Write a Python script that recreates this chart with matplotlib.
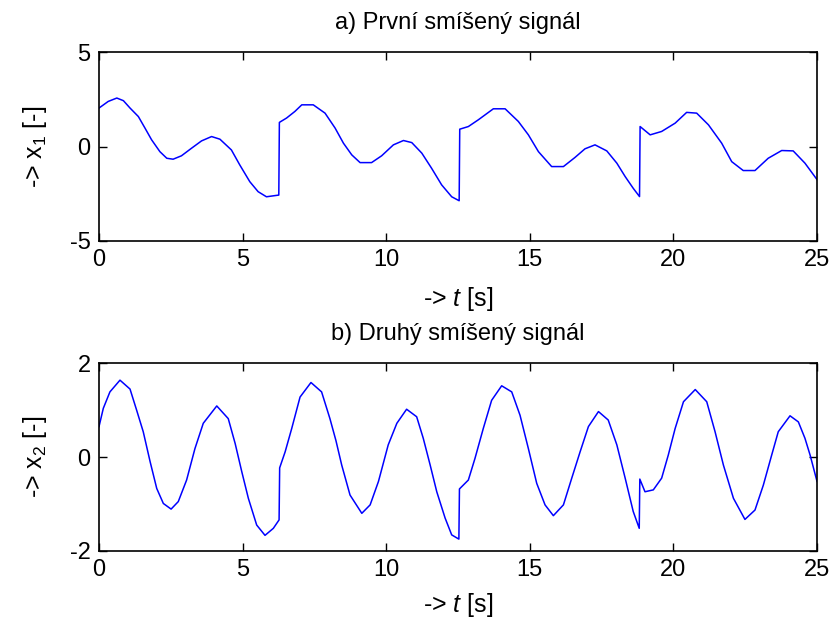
import matplotlib
matplotlib.use("Agg")
import matplotlib.pyplot as plt

plt.rcParams['font.family'] = ['Liberation Sans', 'DejaVu Sans']
plt.rcParams['mathtext.fontset'] = 'custom'
plt.rcParams['mathtext.rm'] = 'Liberation Sans'
plt.rcParams['mathtext.it'] = 'Liberation Sans:italic'
plt.rcParams['axes.unicode_minus'] = False

# First mixed signal x1(t)
t1 = [0.0, 0.32, 0.62, 0.85, 1.08, 1.37, 1.60, 1.83, 2.12, 2.36, 2.58, 2.87,
      3.22, 3.57, 3.92, 4.21, 4.61, 4.90, 5.25, 5.54, 5.83, 6.26, 6.28,
      6.53, 6.82, 7.06, 7.46, 7.87, 8.22, 8.51, 8.80, 9.09, 9.49, 9.84,
      10.25, 10.60, 10.89, 11.24, 11.58, 11.93, 12.28, 12.54, 12.56, 12.86,
      13.21, 13.73, 14.14, 14.60, 14.95, 15.30, 15.76, 16.17, 16.57, 16.92,
      17.27, 17.68, 18.03, 18.32, 18.60, 18.82, 18.84, 19.19, 19.59, 20.06,
      20.46, 20.81, 21.22, 21.68, 22.03, 22.43, 22.84, 23.30, 23.77, 24.17,
      24.58, 25.0]
x1 = [2.04, 2.39, 2.57, 2.43, 2.04, 1.59, 0.98, 0.36, -0.27, -0.62, -0.67,
      -0.49, -0.09, 0.30, 0.53, 0.39, -0.18, -0.97, -1.86, -2.39, -2.66,
      -2.57, 1.28, 1.51, 1.86, 2.21, 2.21, 1.77, 0.98, 0.18, -0.44, -0.85,
      -0.85, -0.49, 0.09, 0.32, 0.21, -0.35, -1.15, -2.03, -2.66, -2.87,
      0.92, 1.06, 1.42, 2.00, 2.00, 1.33, 0.62, -0.27, -1.06, -1.06, -0.58,
      -0.12, 0.09, -0.23, -0.88, -1.59, -2.21, -2.65, 1.06, 0.62, 0.80,
      1.24, 1.81, 1.77, 1.15, 0.18, -0.80, -1.27, -1.27, -0.62, -0.21,
      -0.23, -0.88, -1.75]

# Second mixed signal x2(t)
t2 = [0.0, 0.15, 0.38, 0.73, 1.08, 1.31, 1.54, 1.78, 2.01, 2.24, 2.51, 2.76,
      3.05, 3.34, 3.63, 4.10, 4.50, 4.74, 4.97, 5.20, 5.49, 5.78, 6.07,
      6.27, 6.29, 6.48, 6.71, 7.00, 7.38, 7.75, 8.04, 8.25, 8.45, 8.74,
      9.15, 9.44, 9.73, 10.07, 10.37, 10.71, 11.06, 11.29, 11.53, 11.76,
      12.05, 12.28, 12.53, 12.55, 12.86, 13.09, 13.38, 13.67, 14.02, 14.37,
      14.66, 14.95, 15.24, 15.53, 15.82, 16.17, 16.46, 16.75, 17.04, 17.39,
      17.73, 18.03, 18.32, 18.60, 18.81, 18.83, 19.01, 19.30, 19.59, 19.82,
      20.06, 20.35, 20.76, 21.16, 21.45, 21.74, 22.09, 22.49, 22.84, 23.13,
      23.42, 23.65, 24.06, 24.35, 24.58, 24.76, 25.0]
x2 = [0.65, 1.04, 1.39, 1.64, 1.45, 1.00, 0.54, -0.10, -0.67, -0.99, -1.11,
      -0.95, -0.49, 0.18, 0.72, 1.09, 0.82, 0.29, -0.31, -0.88, -1.45,
      -1.67, -1.52, -1.34, -0.23, 0.11, 0.61, 1.28, 1.59, 1.39, 0.82, 0.35,
      -0.17, -0.81, -1.20, -1.02, -0.52, 0.26, 0.72, 1.02, 0.86, 0.40,
      -0.17, -0.74, -1.30, -1.66, -1.75, -0.68, -0.49, -0.03, 0.61, 1.21,
      1.52, 1.39, 0.89, 0.18, -0.56, -1.02, -1.25, -1.02, -0.45, 0.11, 0.65,
      0.97, 0.79, 0.26, -0.45, -1.16, -1.52, -0.47, -0.74, -0.70, -0.45,
      0.04, 0.61, 1.18, 1.44, 1.18, 0.54, -0.17, -0.88, -1.33, -1.13, -0.60,
      0.04, 0.54, 0.88, 0.75, 0.40, 0.04, -0.52]

x_ticks = [0, 5, 10, 15, 20, 25]
y1_ticks = [-5, 0, 5]
y2_ticks = [-2, 0, 2]

fig = plt.figure(figsize=(8.32, 6.21), dpi=100)
ax1 = fig.add_axes([0.119, 0.612, 0.863, 0.304])
ax2 = fig.add_axes([0.119, 0.113, 0.863, 0.302])

panels = [
    (ax1, t1, x1, y1_ticks, (-5, 5), 'a) První smíšený signál', r'-> x$_1$ [-]', 10),
    (ax2, t2, x2, y2_ticks, (-2, 2), 'b) Druhý smíšený signál', r'-> x$_2$ [-]', 7),
]

for ax, t, x, yt, ylim, title, ylabel, xpad in panels:
    ax.plot(t, x, color='#0000ff', linewidth=1.1)
    ax.set_xlim(0, 25)
    ax.set_ylim(*ylim)
    ax.set_xticks(x_ticks)
    ax.set_yticks(yt)
    ax.tick_params(direction='in', length=6, width=1, top=True, right=True,
                   labelsize=17, pad=6, colors='black')
    for s in ax.spines.values():
        s.set_linewidth(1.2)
    ax.set_title(title, fontsize=17, pad=17)
    ax.set_xlabel(r'-> $t$ [s]', fontsize=18, labelpad=xpad)
    ax.set_ylabel(ylabel, fontsize=18, labelpad=15)

fig.savefig('out.png', dpi=100)
